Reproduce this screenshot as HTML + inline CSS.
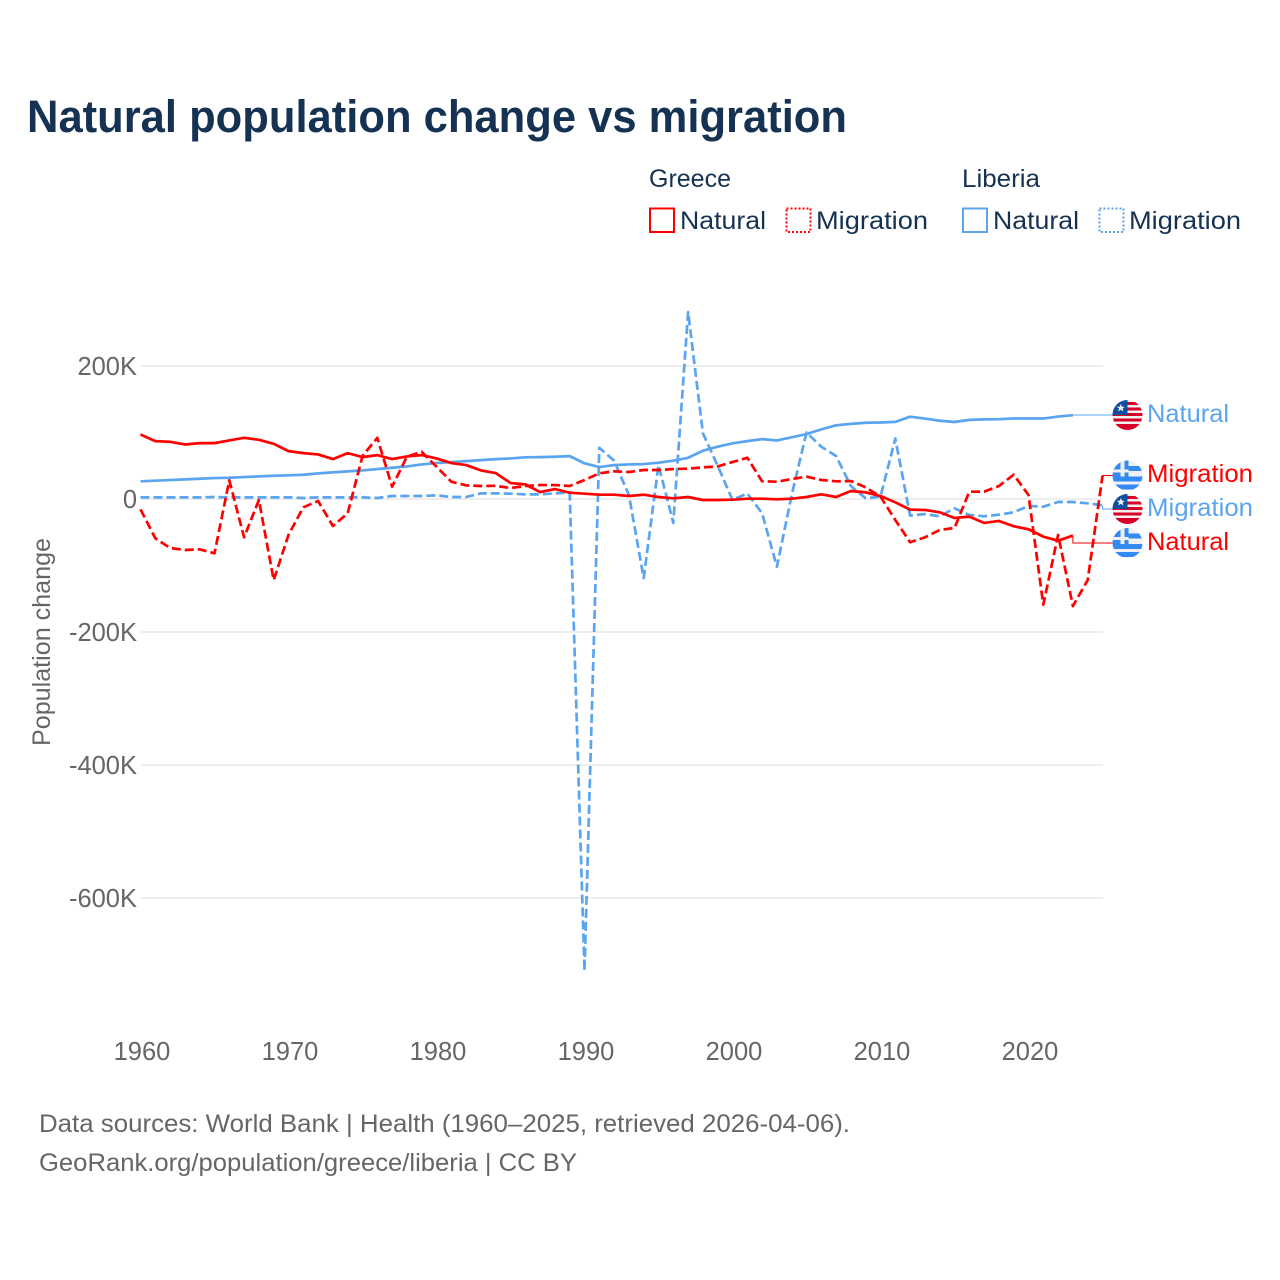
<!DOCTYPE html>
<html lang="en">
<head>
<meta charset="utf-8">
<title>Natural population change vs migration</title>
<style>
html,body{margin:0;padding:0;background:#fff;}
svg{display:block;font-family:"Liberation Sans",sans-serif;}
</style>
</head>
<body>
<svg id="chart" xmlns="http://www.w3.org/2000/svg" width="1280" height="1280" viewBox="0 0 1280 1280">
  <defs>
    <clipPath id="flag-clip"><circle cx="0" cy="0" r="15"/></clipPath>
  </defs>
  <rect width="1280" height="1280" fill="#fff"/>
  <text x="27" y="132" font-size="45" font-weight="700" fill="#163253" textLength="820" lengthAdjust="spacingAndGlyphs">Natural population change vs migration</text>

  <g font-size="25" fill="#163253">
    <text x="649" y="187" textLength="82" lengthAdjust="spacingAndGlyphs">Greece</text>
    <text x="962" y="187" textLength="78" lengthAdjust="spacingAndGlyphs">Liberia</text>
    <rect x="650" y="208.500" width="24" height="23.500" fill="none" stroke="#ff0000" stroke-width="2"/>
    <text x="680" y="229" textLength="86" lengthAdjust="spacingAndGlyphs">Natural</text>
    <rect x="786.500" y="208.500" width="24" height="23.500" fill="none" stroke="#ff0000" stroke-width="2" stroke-dasharray="2 2"/>
    <text x="816" y="229" textLength="112" lengthAdjust="spacingAndGlyphs">Migration</text>
    <rect x="963" y="208.500" width="24" height="23.500" fill="none" stroke="#5ba4f0" stroke-width="2"/>
    <text x="993" y="229" textLength="86" lengthAdjust="spacingAndGlyphs">Natural</text>
    <rect x="1099.500" y="208.500" width="24" height="23.500" fill="none" stroke="#5ba4f0" stroke-width="2" stroke-dasharray="2 2"/>
    <text x="1129" y="229" textLength="112" lengthAdjust="spacingAndGlyphs">Migration</text>
  </g>

  <g id="grid"></g>
  <g id="y-ticks" font-size="25.5" fill="#666" text-anchor="end"></g>
  <g id="x-ticks" font-size="25.5" fill="#666" text-anchor="middle"></g>
  <text transform="translate(50,746) rotate(-90)" font-size="25" fill="#666" textLength="208" lengthAdjust="spacingAndGlyphs">Population change</text>

  <g id="leaders"></g>
  <g id="series"></g>

  <g transform="translate(1127.5,415)">
    <g clip-path="url(#flag-clip)">
      <rect x="-15" y="-15" width="30" height="30" fill="#f0f0f0"/>
      <rect x="-15" y="-13" width="30" height="3" fill="#d80027"/><rect x="-15" y="-7.500" width="30" height="3" fill="#d80027"/><rect x="-15" y="-2" width="30" height="3" fill="#d80027"/><rect x="-15" y="3.500" width="30" height="3" fill="#d80027"/><rect x="-15" y="9" width="30" height="6" fill="#d80027"/>
      <rect x="-15" y="-15" width="15" height="15" fill="#0b4ea2"/>
      <polygon points="-6.700,-11 -5.500,-8.200 -2.700,-8.200 -4.900,-6.400 -4.100,-3.500 -6.700,-5.200 -9.300,-3.500 -8.500,-6.400 -10.700,-8.200 -7.900,-8.200" fill="#f5f5f5"/>
    </g>
  </g>
  <g transform="translate(1127.5,475.5)">
    <g clip-path="url(#flag-clip)">
      <rect x="-15" y="-15" width="30" height="30" fill="#f0f0f0"/>
      <rect x="-15" y="-9.500" width="30" height="5" fill="#338af3"/><rect x="-15" y="1" width="30" height="5" fill="#338af3"/><rect x="-15" y="9" width="30" height="5" fill="#338af3"/>
      <rect x="-15" y="-15" width="16" height="16" fill="#338af3"/>
      <rect x="-7" y="-15" width="4" height="16" fill="#f0f0f0"/><rect x="-15" y="-6" width="16" height="3" fill="#f0f0f0"/>
    </g>
  </g>
  <g transform="translate(1127.5,509)">
    <g clip-path="url(#flag-clip)">
      <rect x="-15" y="-15" width="30" height="30" fill="#f0f0f0"/>
      <rect x="-15" y="-13" width="30" height="3" fill="#d80027"/><rect x="-15" y="-7.500" width="30" height="3" fill="#d80027"/><rect x="-15" y="-2" width="30" height="3" fill="#d80027"/><rect x="-15" y="3.500" width="30" height="3" fill="#d80027"/><rect x="-15" y="9" width="30" height="6" fill="#d80027"/>
      <rect x="-15" y="-15" width="15" height="15" fill="#0b4ea2"/>
      <polygon points="-6.700,-11 -5.500,-8.200 -2.700,-8.200 -4.900,-6.400 -4.100,-3.500 -6.700,-5.200 -9.300,-3.500 -8.500,-6.400 -10.700,-8.200 -7.900,-8.200" fill="#f5f5f5"/>
    </g>
  </g>
  <g transform="translate(1127.5,543)">
    <g clip-path="url(#flag-clip)">
      <rect x="-15" y="-15" width="30" height="30" fill="#f0f0f0"/>
      <rect x="-15" y="-9.500" width="30" height="5" fill="#338af3"/><rect x="-15" y="1" width="30" height="5" fill="#338af3"/><rect x="-15" y="9" width="30" height="5" fill="#338af3"/>
      <rect x="-15" y="-15" width="16" height="16" fill="#338af3"/>
      <rect x="-7" y="-15" width="4" height="16" fill="#f0f0f0"/><rect x="-15" y="-6" width="16" height="3" fill="#f0f0f0"/>
    </g>
  </g>

  <text x="1147" y="422" font-size="25" fill="#5ba4f0" textLength="82" lengthAdjust="spacingAndGlyphs">Natural</text>
  <text x="1147" y="482" font-size="25" fill="#ff0000" textLength="106" lengthAdjust="spacingAndGlyphs">Migration</text>
  <text x="1147" y="516" font-size="25" fill="#5ba4f0" textLength="106" lengthAdjust="spacingAndGlyphs">Migration</text>
  <text x="1147" y="550" font-size="25" fill="#ff0000" textLength="82" lengthAdjust="spacingAndGlyphs">Natural</text>

  <text x="39" y="1132" font-size="25" fill="#666" textLength="811" lengthAdjust="spacingAndGlyphs">Data sources: World Bank | Health (1960–2025, retrieved 2026-04-06).</text>
  <text x="39" y="1171" font-size="25" fill="#666" textLength="538" lengthAdjust="spacingAndGlyphs">GeoRank.org/population/greece/liberia | CC BY</text>
</svg>

<script>
const firstYear = 1960;
const yTickValues = [200, 0, -200, -400, -600];
const yTickLabels = ['200K', '0', '-200K', '-400K', '-600K'];
const xTickValues = [1960, 1970, 1980, 1990, 2000, 2010, 2020];
const xTickLabels = ['1960', '1970', '1980', '1990', '2000', '2010', '2020'];

const greeceNatural = [
  97, 87, 86, 82, 84, 84, 88, 92, 89, 83,
  72, 69, 67, 60, 69, 63, 66, 60, 64, 66,
  61, 54, 51, 43, 39, 24, 22, 10.5, 15, 9.5,
  8, 6.5, 6.5, 4.5, 6.5, 3, 1, 3, -1.5, -1.5,
  -1, 0.5, 0.5, -0.5, 0.5, 3, 7, 3, 12, 10,
  4.5, -5, -16, -16.5, -20, -28.5, -26.5, -36, -33, -41,
  -45.5, -56.6, -62.7, -55
];
const greeceMigration = [
  -15.5, -59, -73.7, -76.7, -75.7, -81.7, 28, -57.6, -1.5, -122,
  -54, -12.5, -3, -40.6, -21.5, 64.7, 92, 18.5, 63.6, 71,
  48.6, 26, 20.5, 19.5, 19.8, 16.5, 19.5, 21, 21, 19.5,
  28.6, 38.6, 41.6, 40.6, 43.6, 43.6, 45, 45.6, 47.6, 49,
  55.6, 62, 26.6, 26, 30, 33.6, 28.6, 26.6, 27, 17.6,
  3.5, -31.6, -65, -57.7, -46.6, -43.6, 11, 11, 19.5, 36.5,
  6, -159, -54, -161, -122, 34.6
];
const liberiaNatural = [
  26.6, 27.5, 28.5, 29.5, 30.5, 31.5, 32, 33, 34, 35,
  35.6, 36.5, 38.5, 40, 41.5, 43, 45, 47, 49, 52,
  54, 55.5, 57, 58.5, 60, 61, 62.7, 63, 63.5, 64.5,
  53.6, 48, 51, 52, 52.5, 54.6, 57.6, 62, 72.6, 78.6,
  83.7, 87, 90, 88, 92.7, 97.7, 104.7, 110.8, 113, 114.7,
  115, 116, 123.8, 121, 117.7, 115.8, 119, 119.7, 120, 121,
  121, 121, 124, 126
];
const liberiaMigration = [
  2.5, 2.5, 2.5, 2.5, 2.5, 3, 2.5, 2.5, 2.5, 2.5,
  2.5, 1.5, 2.5, 2.5, 2.5, 2.5, 1.5, 4.5, 4.5, 4.5,
  5.5, 3, 3, 8.5, 8.5, 8, 7, 7, 8.5, 9.5,
  -710, 77, 57.6, 6, -119, 51, -36, 281, 99, 50,
  -1.5, 8.5, -21.5, -102, 6, 100, 78.6, 64.6, 19.5, 1,
  3.5, 91, -25, -22.6, -26, -14, -24, -26, -23.6, -20,
  -10.5, -11.5, -4.5, -4.5, -6.5, -9.5
];

const NS = 'http://www.w3.org/2000/svg';
const RED = '#ff0000';
const BLUE = '#5ba4f0';

function xScale(year) { return 140.5 + (year - 1960) * 14.8; }
function yScale(value) { return 499 - value * 0.665; }

function linePath(values) {
  return values.map(function (v, i) {
    return (i ? 'L' : 'M') + xScale(firstYear + i).toFixed(2) + ' ' + yScale(v).toFixed(2);
  }).join(' ');
}
function lastPoint(values) {
  const i = values.length - 1;
  return [xScale(firstYear + i), yScale(values[i])];
}

const gridGroup = document.getElementById('grid');
const yTickGroup = document.getElementById('y-ticks');
yTickValues.forEach(function (v, i) {
  const line = document.createElementNS(NS, 'line');
  
  
  line.setAttribute('x1', 141);
  line.setAttribute('x2', 1103);
  line.setAttribute('y1', yScale(v));
  line.setAttribute('y2', yScale(v));
  line.setAttribute('stroke', '#e8e8e8');
  line.setAttribute('stroke-width', 1.5);
  gridGroup.appendChild(line);

  const label = document.createElementNS(NS, 'text');
  
  
  label.setAttribute('x', 137);
  label.setAttribute('y', yScale(v) + 9);
  label.textContent = yTickLabels[i];
  yTickGroup.appendChild(label);
});

const xTickGroup = document.getElementById('x-ticks');
xTickValues.forEach(function (v, i) {
  const label = document.createElementNS(NS, 'text');
  
  
  label.setAttribute('x', xScale(v) + 1.5);
  label.setAttribute('y', 1060);
  label.textContent = xTickLabels[i];
  xTickGroup.appendChild(label);
});

const seriesGroup = document.getElementById('series');
function addSeries(values, color, dashed, name) {
  const path = document.createElementNS(NS, 'path');
  
  
  path.setAttribute('d', linePath(values));
  path.setAttribute('fill', 'none');
  path.setAttribute('stroke', color);
  path.setAttribute('stroke-width', 2.7);
  path.setAttribute('stroke-linejoin', 'round');
  if (dashed) path.setAttribute('stroke-dasharray', '9 4');
  seriesGroup.appendChild(path);
}
addSeries(liberiaMigration, BLUE, true, 'line-liberia-migration');
addSeries(liberiaNatural, BLUE, false, 'line-liberia-natural');
addSeries(greeceMigration, RED, true, 'line-greece-migration');
addSeries(greeceNatural, RED, false, 'line-greece-natural');

const leaderGroup = document.getElementById('leaders');
function addLeader(values, labelY, color, name) {
  const p = lastPoint(values);
  const path = document.createElementNS(NS, 'path');
  
  
  path.setAttribute('d', 'M' + p[0] + ' ' + p[1] + ' V' + labelY + ' H1113');
  path.setAttribute('fill', 'none');
  path.setAttribute('stroke', color);
  path.setAttribute('stroke-width', 1);
  leaderGroup.appendChild(path);
}
addLeader(liberiaNatural, 415, BLUE, 'leader-liberia-natural');
addLeader(greeceMigration, 475.5, RED, 'leader-greece-migration');
addLeader(liberiaMigration, 509, BLUE, 'leader-liberia-migration');
addLeader(greeceNatural, 543, RED, 'leader-greece-natural');
</script>
</body>
</html>
